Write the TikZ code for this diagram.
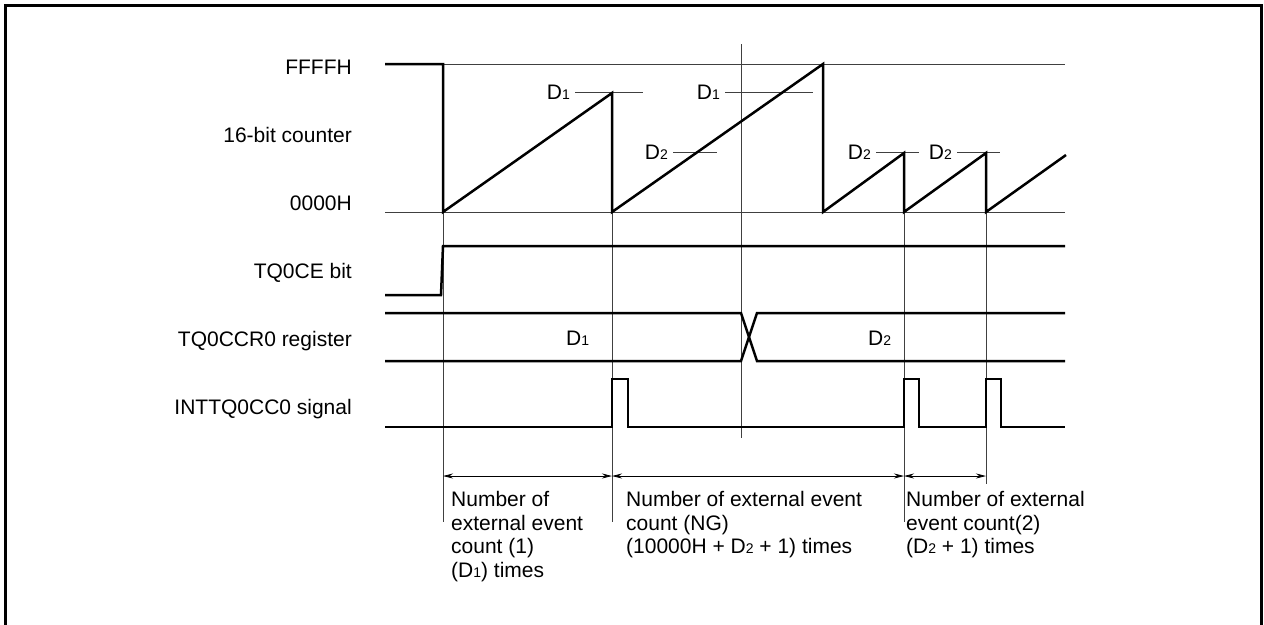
\documentclass[tikz,border=0pt]{standalone}
\usepackage{fontspec}
\setmainfont{Liberation Sans}
\usetikzlibrary{arrows.meta, calc}

% small digit after D, sitting on the baseline
\newcommand{\dsub}[1]{{\fontsize{14}{14}\selectfont #1}}

\begin{document}
\begin{tikzpicture}[
    x=1pt, y=-1pt,
    sig/.style={line width=2.5pt},
    guide/.style={line width=0.8pt, color=black!75},
    signame/.style={anchor=base east, inner sep=0pt, font=\fontsize{21}{24}\selectfont},
    dval/.style={inner sep=0pt, font=\fontsize{21}{24}\selectfont},
    dim/.style={{Stealth[length=10pt,width=5pt]}-{Stealth[length=10pt,width=5pt]}, line width=0.8pt},
    note/.style={anchor=north west, align=left, inner sep=0pt, font=\fontsize{21}{23.5}\selectfont},
]
\useasboundingbox (0,0) rectangle (1264,624);

% outer frame, bottom edge runs off the page
\draw[line width=3pt] (5.5,630) |- (1261.5,5) -- (1261.5,630);

% signal names
\node[signame] (ffff) at (352,74) {FFFFH};
\node[signame] (cnt) at (352,142) {16-bit counter};
\node[signame] (zero) at (352,210.5) {0000H};
\node[signame] (ce) at (352,278.5) {TQ0CE bit};
\node[signame] (ccr) at (352,346) {TQ0CCR0 register};
\node[signame] (intr) at (352,414) {INTTQ0CC0 signal};

% level lines of the counter
\draw[guide] (443,64) -- (1065,64);
\draw[guide] (385,212) -- (1065,212);

% timing marks
\draw[guide] (443,212) -- (443,522);
\draw[guide] (612,212) -- (612,522);
\draw[guide] (741,44) -- (741,438);
\draw[guide] (904,212) -- (904,522);
\draw[guide] (986,212) -- (986,484);

% compare values on the counter
\node[dval, anchor=east] (d1a) at (570,92) {D\dsub{1}};
\node[dval, anchor=east] (d1b) at (720,92) {D\dsub{1}};
\node[dval, anchor=east] (d2a) at (668,152) {D\dsub{2}};
\node[dval, anchor=east] (d2b) at (871,152) {D\dsub{2}};
\node[dval, anchor=east] (d2c) at (952,152) {D\dsub{2}};
\draw[guide] ([xshift=5pt]d1a.east) -- ++(68,0);
\draw[guide] ([xshift=5pt]d1b.east) -- ++(88,0);
\draw[guide] ([xshift=5pt]d2a.east) -- ++(44,0);
\draw[guide] ([xshift=5pt]d2b.east) -- ++(43,0);
\draw[guide] ([xshift=5pt]d2c.east) -- ++(43,0);

% counter
\draw[sig] (385,64) -- (443,64) -- (443,212) -- (612,93) -- (612,212)
    -- (823,64) -- (823,212) -- (904,153) -- (904,212)
    -- (986,153) -- (986,212) -- (1066,155);

% TQ0CE bit
\draw[sig] (385,295) -- (441,295) -- (443,246) -- (1065,246);

% TQ0CCR0 register
\draw[sig] (385,313) -- (741,313) -- (757,361) -- (1065,361);
\draw[sig] (385,361) -- (741,361) -- (757,313) -- (1065,313);
\node[dval, anchor=west] (rd1) at (566,338) {D\dsub{1}};
\node[dval, anchor=west] (rd2) at (868,338) {D\dsub{2}};

% INTTQ0CC0 signal
\draw[sig] (385,427) -- (612,427) -- (612,379) -- (628,379) -- (628,427)
    -- (904,427) -- (904,379) -- (919,379) -- (919,427)
    -- (986,427) -- (986,379) -- (1001,379) -- (1001,427) -- (1065,427);

% intervals
\coordinate (m0) at (443,476);
\coordinate (m1) at (612,476);
\coordinate (m2) at (904,476);
\coordinate (m3) at (986,476);
\draw[dim] (m0) -- (m1);
\draw[dim] (m1) -- (m2);
\draw[dim] (m2) -- (m3);

\node[note] (n1) at (451,491.5) {Number of\\external event\\count (1)\\(D\dsub{1}) times};
\node[note] (n2) at (626,491.5) {Number of external event\\count (NG)\\(10000H + D\dsub{2} + 1) times};
\node[note] (n3) at (906,491.5) {Number of external\\event count(2)\\(D\dsub{2} + 1) times};

\end{tikzpicture}
\end{document}
